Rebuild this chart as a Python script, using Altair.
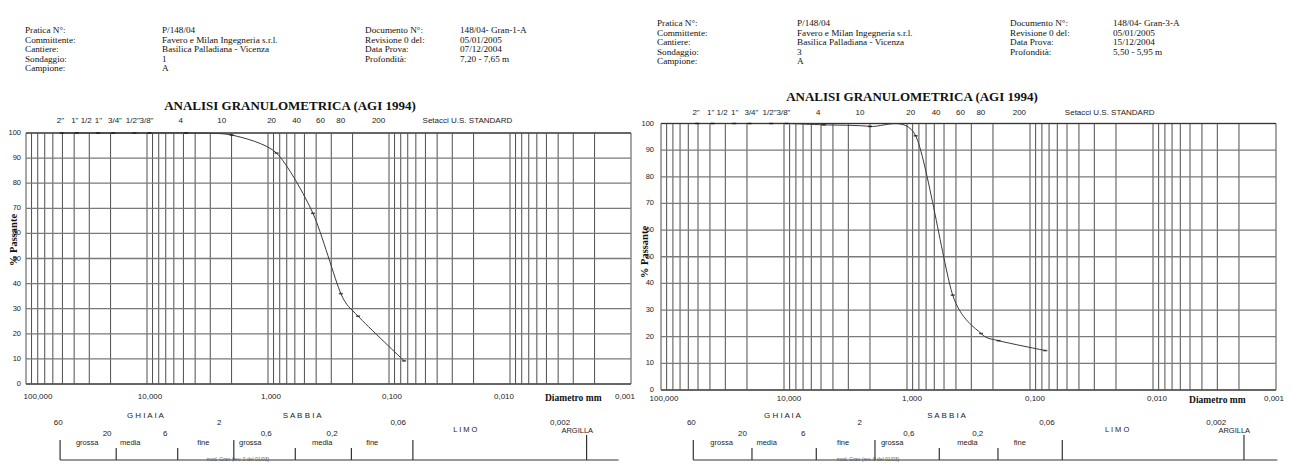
import altair as alt
import pandas as pd

SERIF = "Liberation Serif"
SANS = "Liberation Sans"

# ---------------- data ----------------
header_labels = ["Pratica N°:", "Committente:", "Cantiere:", "Sondaggio:", "Campione:"]
header_values_left = ["P/148/04", "Favero e Milan Ingegneria s.r.l.", "Basilica Palladiana - Vicenza", "1", "A"]
header_values_right = ["P/148/04", "Favero e Milan Ingegneria s.r.l.", "Basilica Palladiana - Vicenza", "3", "A"]
doc_labels = ["Documento N°:", "Revisione 0 del:", "Data Prova:", "Profondità:"]
doc_values_left = ["148/04- Gran-1-A", "05/01/2005", "07/12/2004", "7,20 - 7,65 m"]
doc_values_right = ["148/04- Gran-3-A", "05/01/2005", "15/12/2004", "5,50 - 5,95 m"]
chart_title = "ANALISI GRANULOMETRICA (AGI 1994)"
y_title = "% Passante"
x_title = "Diametro mm"

# sieve openings (mm) and % passing
sieve_mm = [50.8, 38.1, 25.4, 19.05, 12.7, 9.525, 4.75, 2.0, 0.85, 0.425, 0.25, 0.18, 0.075]
pass_left = [100, 100, 100, 100, 100, 100, 100, 99.2, 92.0, 68.0, 36.0, 27.0, 9.2]
pass_right = [100, 100, 100, 100, 100, 100, 99.5, 98.9, 95.4, 35.6, 21.2, 18.5, 14.8]

# sieve labels on top (position read as diameter)
sieve_labels = ['2"', '1" 1/2', '1"', '3/4"', '1/2"', '3/8"', '4', '10', '20', '40', '60', '80', '200',
                'Setacci U.S. STANDARD']
sieve_label_mm = [51.9, 34.8, 25.2, 18.4, 13.1, 10.1, 5.26, 2.41, 0.934, 0.58, 0.368, 0.251, 0.122, 0.0225]

# axes
decades_first = [100]
decades_mid = [10, 1, 0.1]
decades_pen = [0.01]
decades_last = [0.001]
decade_labels = {100: "100,000", 10: "10,000", 1: "1,000", 0.1: "0,100", 0.01: "0,010", 0.001: "0,001"}
y_ticks = [0, 10, 20, 30, 40, 50, 60, 70, 80, 90, 100]
grid_multipliers = [1, 2, 3, 4, 5, 6, 7, 8, 9]
grid_decades = [10, 1, 0.1, 0.01, 0.001]
grid_mm = [100] + [round(m * d, 6) for d in grid_decades for m in grid_multipliers]

# AGI classification bar
cls_major = [60, 2, 0.06]
cls_minor = [20, 6, 0.6, 0.2]
cls_clay = [0.002]
cls_bar_from, cls_bar_to = 60, 0.00107
cls_upper_labels = ["60", "2", "0,06", "0,002"]
cls_upper_mm = [62.2, 2.66, 0.080, 0.00336]
cls_lower_labels = ["20", "6", "0,6", "0,2"]
cls_lower_mm = [23.9, 7.67, 1.06, 0.292]
cls_sub_labels = ["grossa", "media", "fine", "grossa", "media", "fine"]
cls_sub_mm = [35.3, 15.2, 3.63, 1.45, 0.354, 0.133]
cls_group_labels = ["G H I A I A", "S A B B I A"]
cls_group_mm = [11.3, 0.524]
cls_limo_labels = ["L I M O"]
cls_limo_mm = [0.0215]
cls_clay_labels = ["ARGILLA"]
cls_clay_mm = [0.0024]
footer_note = "mod. Gran  (rev. 0 del 01/03)"


def df(**cols):
    return pd.DataFrame(cols)


def panel(P, passing, hv, dv):
    xs = alt.Scale(type="log", domain=[100, 0.001], range=P["xr"], nice=False)
    ys = alt.Scale(domain=[0, 100], range=P["yr"], nice=False, zero=False)
    cs = alt.Scale(type="log", domain=[100, 0.001], range=P["cr"], nice=False)
    X = lambda f: alt.X(f, scale=xs, axis=None)
    Y = lambda f: alt.Y(f, scale=ys, axis=None)

    vgrid = alt.Chart(df(mm=grid_mm)).mark_rule(color="#3a3a3a", strokeWidth=0.9).encode(
        x=X("mm:Q"), y=alt.YDatum(0, scale=ys, axis=None), y2=alt.Y2Datum(100))
    hgrid = alt.Chart(df(p=y_ticks)).mark_rule(color="#7a7a7a", strokeWidth=1.3).encode(
        y=Y("p:Q"), x=alt.XDatum(100, scale=xs, axis=None), x2=alt.X2Datum(0.001))
    frame = alt.Chart(df(p=[0, 100])).mark_rule(color="#333", strokeWidth=1).encode(
        y=Y("p:Q"), x=alt.XDatum(100, scale=xs, axis=None), x2=alt.X2Datum(0.001))
    data = df(mm=sieve_mm, p=passing)
    curve = alt.Chart(data).mark_line(interpolate="cardinal", tension=0.25, color="#3a3a3a",
                                      strokeWidth=1).encode(x=X("mm:Q"), y=Y("p:Q"))
    marks = alt.Chart(data).mark_tick(orient="horizontal", size=4, thickness=1.6, color="#111").encode(
        x=X("mm:Q"), y=Y("p:Q"))
    slabels = alt.Chart(df(mm=sieve_label_mm, t=sieve_labels)).mark_text(
        font=SANS, fontSize=8, baseline="middle", color="#222").encode(
        x=X("mm:Q"), y=alt.value(P["sieve_y"]), text="t:N")

    def dec_layer(vals, dx):
        return alt.Chart(df(mm=vals, t=[decade_labels[v] for v in vals])).mark_text(
            font=SANS, fontSize=8, baseline="middle", dx=dx, color="#222").encode(
            x=X("mm:Q"), y=alt.value(P["dec_y"]), text="t:N")

    ylab = alt.Chart(df(p=y_ticks, t=[str(v) for v in y_ticks])).mark_text(
        font=SANS, fontSize=7.5, align="right", baseline="middle", color="#222").encode(
        y=Y("p:Q"), x=alt.value(P["ylab_x"]), text="t:N")
    xtitle = alt.Chart(df(mm=[0.003], t=[x_title])).mark_text(
        font=SERIF, fontSize=9.5, fontWeight="bold", baseline="middle", color="#111").encode(
        x=X("mm:Q"), y=alt.value(P["dec_y"] + 1), text="t:N")

    d0, d1, d2, d3 = P["dec_dx"]
    main = alt.layer(vgrid, hgrid, frame, curve, marks, slabels,
                     dec_layer(decades_first, d0), dec_layer(decades_mid, d1),
                     dec_layer(decades_pen, d2), dec_layer(decades_last, d3),
                     ylab, xtitle)

    C = lambda f: alt.X(f, scale=cs, axis=None)
    base_y = 452
    major = alt.Chart(df(mm=cls_major)).mark_rule(color="#333", strokeWidth=1.2).encode(
        x=C("mm:Q"), y=alt.value(432), y2=alt.value(base_y))
    minor = alt.Chart(df(mm=cls_minor)).mark_rule(color="#333", strokeWidth=1.2).encode(
        x=C("mm:Q"), y=alt.value(440), y2=alt.value(base_y))
    clay = alt.Chart(df(mm=cls_clay)).mark_rule(color="#333", strokeWidth=1.2).encode(
        x=C("mm:Q"), y=alt.value(427), y2=alt.value(base_y))
    bar = alt.Chart(df(a=[cls_bar_from], b=[cls_bar_to])).mark_rule(color="#333", strokeWidth=1.2).encode(
        x=C("a:Q"), x2="b:Q", y=alt.value(base_y))

    def txt(labels, mm, y, size=8):
        return alt.Chart(df(mm=mm, t=labels)).mark_text(
            font=SANS, fontSize=size, baseline="middle", color="#222").encode(
            x=C("mm:Q"), y=alt.value(y), text="t:N")

    note = alt.Chart(df(t=[footer_note])).mark_text(
        font=SANS, fontSize=5, baseline="top", color="#555").encode(
        x=alt.value(P["note_x"]), y=alt.value(454 - 5), text="t:N")

    cls = alt.layer(major, minor, clay, bar,
                    txt(cls_upper_labels, cls_upper_mm, 415),
                    txt(cls_lower_labels, cls_lower_mm, 426),
                    txt(cls_sub_labels, cls_sub_mm, 435, 7.5),
                    txt(cls_group_labels, cls_group_mm, 408),
                    txt(cls_limo_labels, cls_limo_mm, 422, 7.5),
                    txt(cls_clay_labels, cls_clay_mm, 423, 7.5),
                    note)

    def block(lines, x, y, **kw):
        return alt.Chart(df(t=["\n".join(lines)])).mark_text(
            font=SERIF, fontSize=9.2, lineHeight=9.5, lineBreak="\n", align="left", baseline="top",
            color="#111", **kw).encode(x=alt.value(x), y=alt.value(y), text="t:N")

    hx = P["hx"]
    hy = P["hy"]
    heads = [block(header_labels, hx[0], hy), block(hv, hx[1], hy),
             block(doc_labels, hx[2], hy), block(dv, hx[3], hy)]
    title = alt.Chart(df(t=[chart_title])).mark_text(
        font=SERIF, fontSize=13, fontWeight="bold", baseline="middle", color="#111").encode(
        x=alt.value(P["title_x"]), y=alt.value(P["title_y"]), text="t:N")
    ytitle = alt.Chart(df(t=[y_title])).mark_text(
        font=SERIF, fontSize=10.5, fontWeight="bold", baseline="middle", angle=270, color="#111").encode(
        x=alt.value(P["yt_x"]), y=alt.value(P["yt_y"]), text="t:N")
    return [main, cls] + heads + [title, ytitle]


LEFT = dict(xr=[18, 623], yr=[376, 125], cr=[26, 614], sieve_y=113, dec_y=389, ylab_x=13,
            dec_dx=(12, 3, -6, -6),
            note_x=230, hx=[17, 154, 357, 452], hy=18, title_x=282, title_y=98, yt_x=6, yt_y=232)
RIGHT = dict(xr=[653, 1268], yr=[382, 115.5], cr=[658, 1273], sieve_y=105, dec_y=391, ylab_x=646,
             dec_dx=(3, 5, 4, -2),
             note_x=860, hx=[649, 789, 1002, 1105], hy=11, title_x=904, title_y=89, yt_x=637, yt_y=244)

layers = panel(LEFT, pass_left, header_values_left, doc_values_left) + \
    panel(RIGHT, pass_right, header_values_right, doc_values_right)

chart = alt.layer(*layers).resolve_scale(x="independent", y="independent").properties(
    width=1277, height=454, padding=0, autosize=alt.AutoSizeParams(type="none"),
    background="white").configure_view(stroke=None)

chart.save("out.html", embed_options={"renderer": "svg", "actions": False})
